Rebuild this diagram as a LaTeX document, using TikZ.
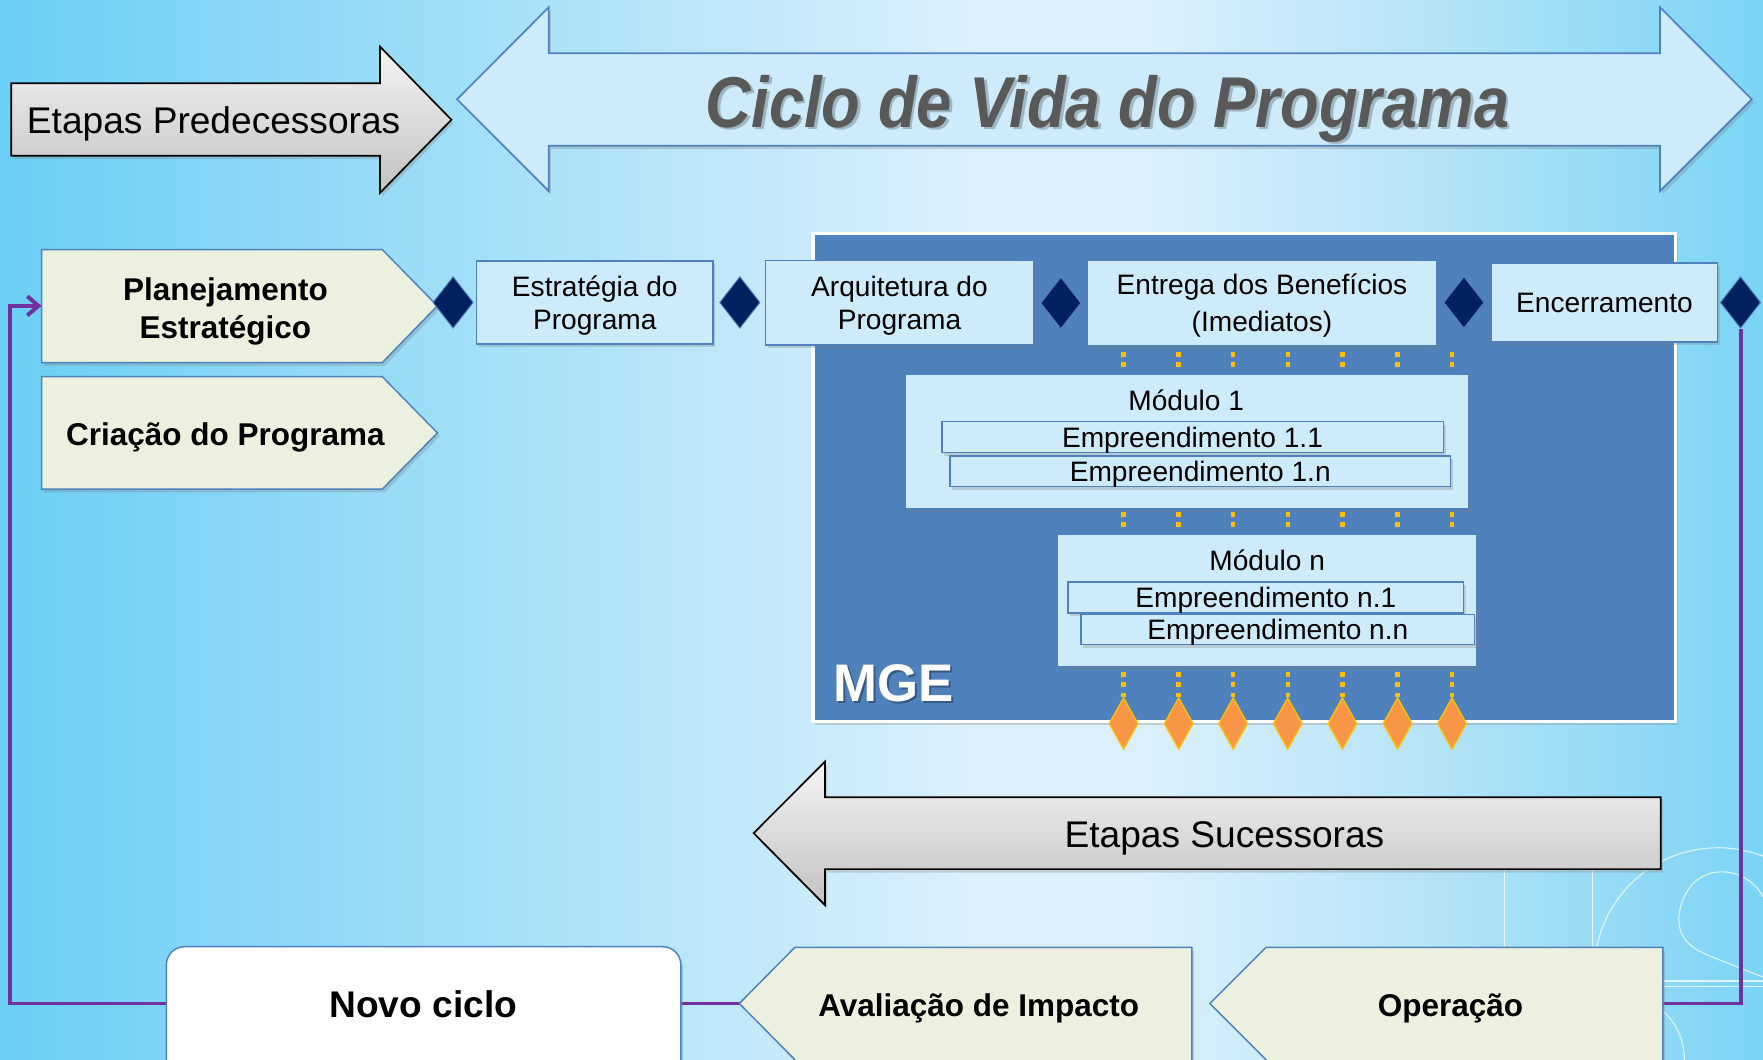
\documentclass[tikz,border=0pt]{standalone}
\usepackage{fontspec}
\setmainfont{Liberation Sans}
\usetikzlibrary{shapes.geometric,shadows,arrows.meta}
\definecolor{bxfill}{HTML}{CDEBFB}
\definecolor{bxline}{HTML}{4F81BD}
\definecolor{mgeblue}{HTML}{4F81BD}
\definecolor{navyd}{HTML}{002060}
\definecolor{pentfill}{HTML}{EBF1DE}
\definecolor{orfill}{HTML}{F79646}
\definecolor{yel}{HTML}{FFC000}
\definecolor{purpc}{HTML}{7030A0}
\definecolor{tgrey}{HTML}{595959}
\definecolor{gtop}{HTML}{F4F4F4}
\definecolor{gbot}{HTML}{C2C2C2}
\newcommand\myfs[2]{\fontsize{#1}{#2}\selectfont}
\pgfdeclarehorizontalshading{bgsh}{100bp}{rgb(0bp)=(0.42,0.81,0.96); rgb(25bp)=(0.42,0.81,0.96); rgb(37.5bp)=(0.62,0.87,0.97); rgb(52.5bp)=(0.86,0.94,0.99); rgb(57.5bp)=(0.86,0.94,0.99); rgb(66bp)=(0.70,0.89,0.97); rgb(75bp)=(0.48,0.83,0.96); rgb(100bp)=(0.48,0.83,0.96)}
\begin{document}
\begin{tikzpicture}[x=1pt,y=-1pt,
  shad/.style={drop shadow={shadow xshift=2pt,shadow yshift=-3pt,opacity=.3}},
  bx/.style={draw=bxline,line width=1.3pt,fill=bxfill,inner sep=0pt,align=center,font=\myfs{25}{29},text depth=0pt,shad},
  pentshape/.style={draw=bxline,line width=1.3pt,fill=pentfill,shad},
  greyarrow/.style={top color=gtop,bottom color=gbot,draw=black,line width=1.5pt,shad},
  navydia/.style={diamond,fill=navyd,draw=bxline,line width=.8pt,minimum width=36pt,minimum height=46pt,inner sep=0pt},
  ordia/.style={diamond,fill=orfill,draw=yel,line width=1.2pt,minimum width=26pt,minimum height=46pt,inner sep=0pt},
  ydash/.style={draw=yel,line width=4pt,dash pattern=on 4.5pt off 5pt},
  purpline/.style={draw=purpc,line width=3.5pt},
  deco/.style={draw=white,line width=1pt,opacity=.75},
  boldtxt/.style={font=\bfseries\myfs{28}{34},align=center,text depth=0pt}
]
\useasboundingbox (0,0) rectangle (1568,942);
\shade[shading=bgsh] (0,0) rectangle (1568,942);
% faint decorations
\draw[deco] (1338,760) -- (1338,843);
\draw[deco] (1416,760) -- (1416,843);
\draw[deco] (1528,864) circle[radius=110];
\draw[deco] (1568,798) .. controls (1555,770) and (1505,762) .. (1494,809) .. controls (1490,830) and (1500,842) .. (1520,850) -- (1568,869);
\draw[deco] (1479,872.5) -- (1568,872.5);
\draw[deco] (1479,877) -- (1568,877);
\draw[deco] (1440,942) circle[radius=58];

% Etapas Predecessoras
\shadedraw[greyarrow] (10,74) -- (338,74) -- (338,41.5) -- (401.5,106.5) -- (338,171.5) -- (338,138.5) -- (10,138.5) -- cycle;
\node[font=\myfs{33}{36},anchor=base] (pred) at (190,118.6) {Etapas Predecessoras};

% Ciclo de vida arrow
\draw[draw=bxline,line width=1.5pt,fill=bxfill,shad] (406.5,88.3) -- (488,6.5) -- (488,47.4) -- (1476.4,47.4) -- (1476.4,6.5) -- (1558,88.3) -- (1476.4,170) -- (1476.4,129.6) -- (488,129.6) -- (488,170) -- cycle;
\node[font=\bfseries\itshape\myfs{64}{70},text=black,opacity=.22,anchor=base,xscale=.88] at (987.5,115.5) {Ciclo de Vida do Programa};
\node[font=\bfseries\itshape\myfs{64}{70},text=tgrey,anchor=base,xscale=.88] (title) at (985,113) {Ciclo de Vida do Programa};

% left pentagons
\draw[pentshape] (37,222) -- (340,222) -- (389,272) -- (340,322.5) -- (37,322.5) -- cycle;
\node[boldtxt] (plan) at (200.5,274) {Planejamento\\Estratégico};
\coordinate (planL) at (37,272);
\draw[pentshape] (37,335) -- (340,335) -- (389,385) -- (340,435) -- (37,435) -- cycle;
\node[boldtxt] (cria) at (200.5,386) {Criação do Programa};

% MGE area
\node[draw=white,line width=3pt,fill=mgeblue,minimum width=767pt,minimum height=434pt,inner sep=0pt,shad] (mge) at (1106.5,424.5) {};
\node[font=\bfseries\myfs{47}{50},text=black,opacity=.3,anchor=base] at (796.5,625.5) {MGE};
\node[font=\bfseries\myfs{47}{50},text=white,anchor=base] (mgelbl) at (795,623.5) {MGE};

% phase boxes
\node[bx,minimum width=210pt,minimum height=74pt] (estr) at (529,269) {Estratégia do\\Programa};
\node[bx,minimum width=238pt,minimum height=75pt] (arq) at (800,269.3) {Arquitetura do\\Programa};
\node[bx,minimum width=311pt,minimum height=76pt,font=\myfs{25}{33}] (ent) at (1122.4,269.3) {Entrega dos Benefícios\\(Imediatos)};
\node[bx,minimum width=201pt,minimum height=70.5pt] (enc) at (1427,269) {Encerramento};

% modules
\node[bx,minimum width=501pt,minimum height=120pt] (m1) at (1056,392.7) {};
\node[font=\myfs{25}{29},anchor=base] (m1t) at (1055,364.7) {Módulo 1};
\node[bx,minimum width=446pt,minimum height=27.3pt] (e11) at (1060.6,388.7) {Empreendimento 1.1};
\node[bx,minimum width=445pt,minimum height=27.3pt] (e1n) at (1067.5,419.2) {Empreendimento 1.n};
\node[bx,minimum width=373pt,minimum height=118pt] (mn) at (1127.2,534) {};
\node[font=\myfs{25}{29},anchor=base] (mnt) at (1127,507.5) {Módulo n};
\node[bx,minimum width=351.5pt,minimum height=27.4pt] (en1) at (1125.8,531.3) {Empreendimento n.1};
\node[bx,minimum width=350pt,minimum height=26.6pt] (enn) at (1136.5,559.7) {Empreendimento n.n};

% dotted links and orange diamonds
\foreach \x [count=\i] in {999.3,1048.3,1096.8,1145.3,1193.9,1243,1291.4}{
  \node[ordia] (o\i) at (\x,643.5) {};
  \draw[ydash] (\x,312.8) -- (\x,329);
  \draw[ydash] (\x,455) -- (\x,471);
  \draw[ydash] (\x,597.4) -- (o\i.north);
}

% navy diamonds
\node[navydia] (d1) at (403,269) {};
\node[navydia] (d2) at (658,269) {};
\node[navydia] (d3) at (943.5,269.5) {};
\node[navydia] (d4) at (1302,269) {};
\node[navydia] (d5) at (1548,269) {};

% Etapas Sucessoras
\shadedraw[greyarrow] (670.3,741) -- (733.7,677.4) -- (733.7,709) -- (1477,709) -- (1477,773) -- (733.7,773) -- (733.7,805) -- cycle;
\node[font=\myfs{33}{36},anchor=base] (suc) at (1089,753.8) {Etapas Sucessoras};

% purple loop
\coordinate (novoL) at (148,892.5);
\coordinate (novoR) at (605.5,892.5);
\coordinate (avalT) at (657.5,892.5);
\coordinate (operR) at (1479,892.5);
\draw[purpline] (operR) -| (d5.south);
\draw[purpline,-{Straight Barb[length=10pt,width=17pt]}] (novoL) -- (8.7,892.5) -- (8.7,272) -- (planL);
\draw[purpline] (novoR) -- (avalT);

% bottom shapes
\node[draw=bxline,line width=1.3pt,fill=white,rounded corners=16pt,minimum width=457.5pt,minimum height=122pt,inner sep=0pt,shad] (novo) at (376.75,903) {};
\node[font=\bfseries\myfs{33}{38}] (novot) at (376.5,893) {Novo ciclo};
\draw[pentshape] (657.5,892.5) -- (707,842.5) -- (1060,842.5) -- (1060,965) -- (707,965) -- (707,942.5) -- cycle;
\node[boldtxt] (aval) at (870.5,894) {Avaliação de Impacto};
\draw[pentshape] (1076,892.5) -- (1126,842.5) -- (1479,842.5) -- (1479,965) -- (1126,965) -- (1126,942.5) -- cycle;
\node[boldtxt] (oper) at (1290,894) {Operação};
\end{tikzpicture}
\end{document}
